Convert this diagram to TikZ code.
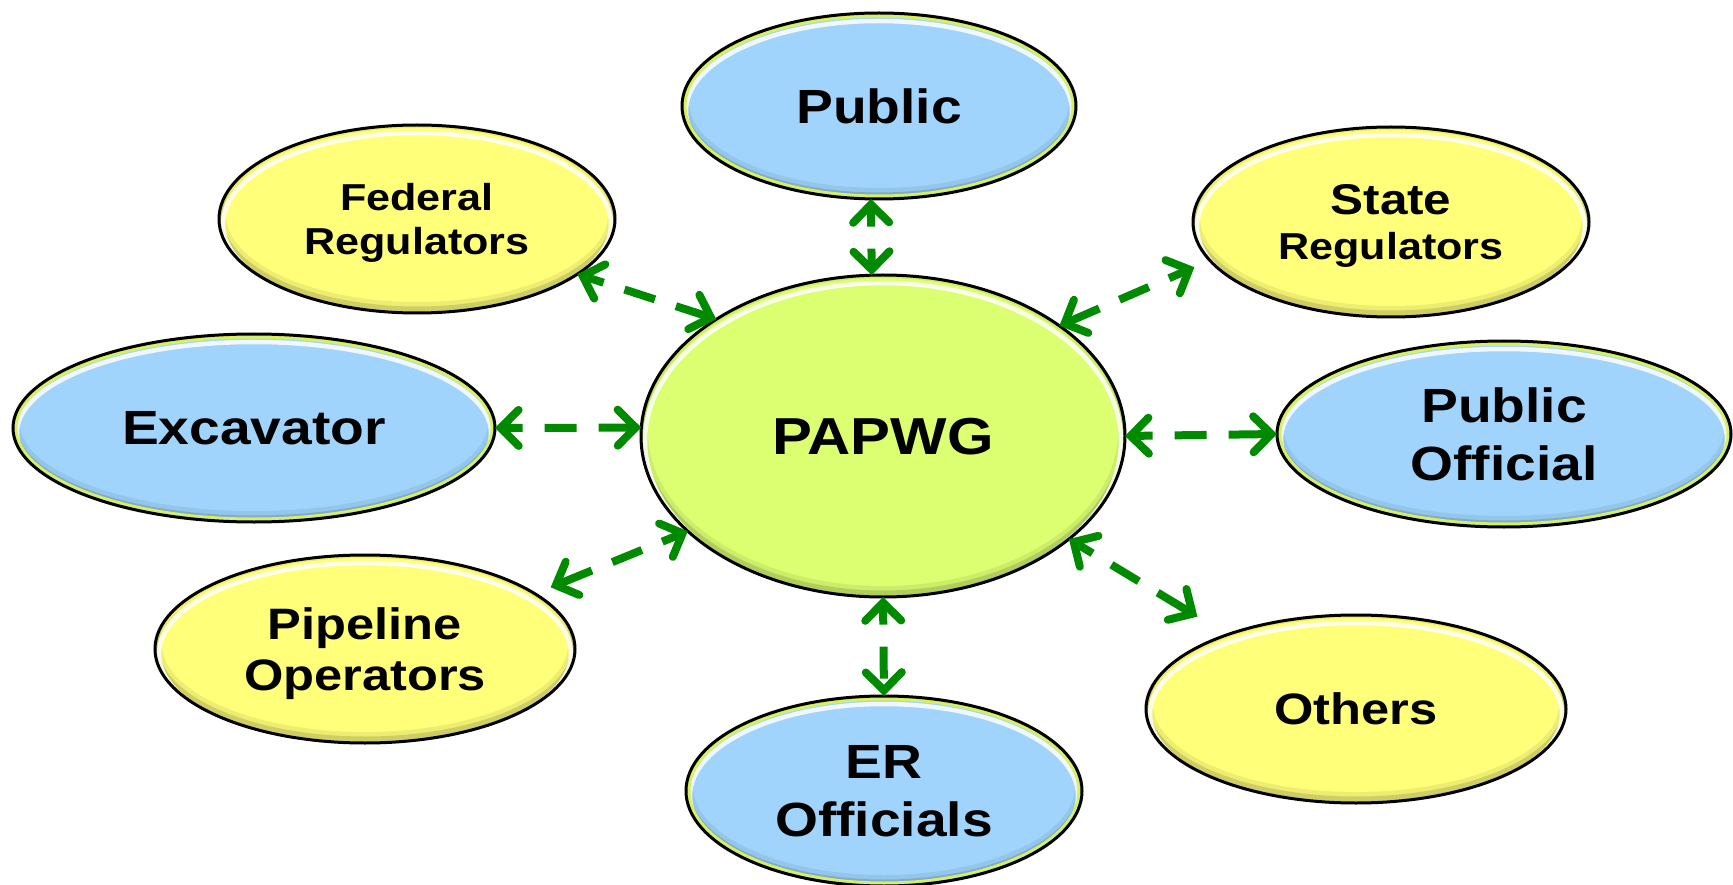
\documentclass[tikz,border=0pt]{standalone}
\usepackage{fontspec}
\setmainfont{Liberation Sans}[FakeStretch=1.15]
\usetikzlibrary{shapes.geometric,arrows.meta,calc}
\definecolor{bluefill}{HTML}{A0D4FC}
\definecolor{yelfill}{HTML}{FFFF7A}
\definecolor{limefill}{HTML}{DCFF72}
\definecolor{rimgreen}{HTML}{D6F062}
\definecolor{arrowgreen}{HTML}{008A00}
\newcommand\bubradii{%
  \pgfpointdiff{\pgfpointanchor{path picture bounding box}{center}}%
               {\pgfpointanchor{path picture bounding box}{north east}}%
  \pgfgetlastxy{\bubrx}{\bubry}}
\newcommand\bubshade{%
  \bubradii
  \draw[black,opacity=.07,line width=12pt] ([yshift=4pt]path picture bounding box.center)
     ellipse [x radius=\bubrx-1pt, y radius=\bubry-1pt];
  \draw[black,opacity=.13,line width=5pt] ([yshift=3pt]path picture bounding box.center)
     ellipse [x radius=\bubrx-1pt, y radius=\bubry-1pt];
  \draw[white,opacity=.85,line width=4.5pt] ([yshift=-5pt]path picture bounding box.center)
     ellipse [x radius=\bubrx-4pt, y radius=\bubry-3pt];}
\newcommand\bubrim{%
  \bubradii
  \draw[rimgreen,line width=9pt] (path picture bounding box.center)
     ellipse [x radius=\bubrx, y radius=\bubry];}
\tikzset{
  bubble/.style={ellipse, draw=black, line width=3pt, inner sep=0pt, outer sep=0pt,
     align=center, text depth=0pt},
  bluebub/.style={bubble, fill=bluefill, path picture={\bubshade\bubrim}},
  yelbub/.style={bubble, fill=yelfill, path picture={\bubshade}},
  limebub/.style={bubble, fill=limefill, path picture={\bubshade}},
  barb/.tip={Straight Barb[length=18pt,width=36pt,line cap=round,line join=miter]},
  cn/.style={arrowgreen, line width=8pt, barb-barb,
     dash pattern=on 18pt off 22pt on 32pt off 22pt on 200pt},
}
\begin{document}
\begin{tikzpicture}[x=1pt,y=-1pt]
\useasboundingbox (0,0) rectangle (1733,885);
\node[bluebub, minimum width=394pt, minimum height=186pt,
      font={\bfseries\fontsize{48}{56}\selectfont}] (pub) at (879,106) {Public};
\node[yelbub, minimum width=396pt, minimum height=188pt,
      font={\bfseries\fontsize{37.5}{44}\selectfont}] (fed) at (417,219) {Federal\\Regulators};
\node[yelbub, minimum width=396pt, minimum height=190pt,
      font={\bfseries\fontsize{37.5}{45}\selectfont}] (sta) at (1391,222)
      {{\fontsize{43}{45}\selectfont State}\\Regulators};
\node[bluebub, minimum width=482pt, minimum height=188pt,
      font={\bfseries\fontsize{48}{56}\selectfont}] (exc) at (254,428) {Excavator};
\node[limebub, minimum width=484pt, minimum height=322pt,
      font={\bfseries\fontsize{52}{60}\selectfont}] (pap) at (883,436) {PAPWG};
\node[bluebub, minimum width=454pt, minimum height=186pt,
      font={\bfseries\fontsize{48}{58}\selectfont}] (po) at (1504,434) {Public\\Official};
\node[yelbub, minimum width=420pt, minimum height=188pt,
      font={\bfseries\fontsize{44}{51}\selectfont}] (pip) at (365,649) {Pipeline\\Operators};
\node[yelbub, minimum width=420pt, minimum height=188pt,
      font={\bfseries\fontsize{44}{51}\selectfont}] (oth) at (1356,709) {Others};
\node[bluebub, minimum width=396pt, minimum height=190pt,
      font={\bfseries\fontsize{48}{58}\selectfont}] (er) at (884,791) {ER\\Officials};

\draw[cn] (pub.265) -- (pap.94);
\draw[cn] (fed.-19) -- (pap.145);
\draw[cn, shorten <=17pt] (sta.192) -- (pap.32);
\draw[cn] (exc.east) -- (pap.178);
\draw[cn] (pap.0) -- (po.west);
\draw[cn, shorten >=17pt] (pap.206) -- (pip.18);
\draw[cn, shorten >=35pt] (pap.-29) -- (oth.150);
\draw[cn] (pap.-90) -- (er.north);
\end{tikzpicture}
\end{document}
